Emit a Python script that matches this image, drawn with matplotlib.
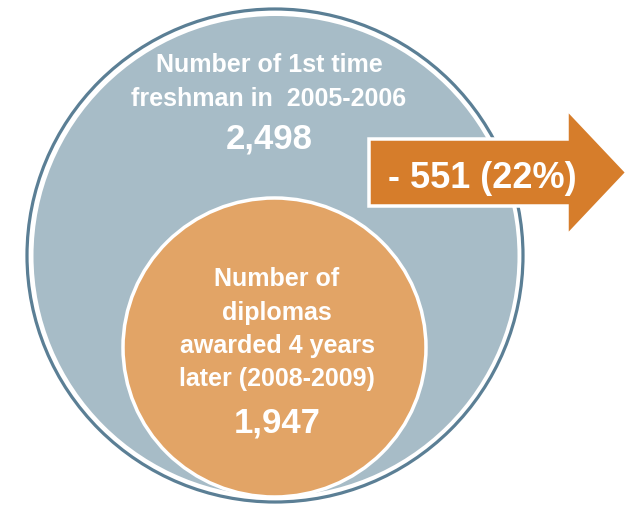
import matplotlib
matplotlib.use("Agg")
import matplotlib.pyplot as plt
from matplotlib.patches import Ellipse, Polygon

# Cohort figures
freshman_label = ["Number of 1st time", "freshman in  2005-2006"]
freshman_count = 2498
diploma_label = ["Number of", "diplomas", "awarded 4 years", "later (2008-2009)"]
diploma_count = 1947

drop = freshman_count - diploma_count
drop_pct = round(100 * drop / freshman_count)

BLUE = "#A7BCC7"
BLUE_DARK = "#5B7F95"
ORANGE_LIGHT = "#E2A466"
ORANGE = "#D67D2B"
FONT = ["Liberation Sans", "DejaVu Sans"]

W, H = 631, 506
fig = plt.figure(figsize=(W / 100, H / 100), dpi=100)
ax = fig.add_axes([0, 0, 1, 1])
ax.set_xlim(0, W)
ax.set_ylim(H, 0)
ax.axis("off")

px = 72 / 100  # one pixel in points

# Outer circle: thin dark ring, white gap, blue body
ax.add_patch(Ellipse((275, 256.5), 2 * 248, 2 * 246.5, facecolor="white",
                     edgecolor=BLUE_DARK, lw=3.2 * px, zorder=1))
ax.add_patch(Ellipse((275.5, 257), 2 * 242, 2 * 240, facecolor=BLUE,
                     edgecolor="none", zorder=2))

# Inner circle with white rim
ax.add_patch(Ellipse((274.5, 348.5), 2 * 151.5, 2 * 149.5, facecolor=ORANGE_LIGHT,
                     edgecolor="white", lw=3.5 * px, zorder=3))

# Arrow showing the difference
arrow_pts = [(369, 140), (567, 140), (567, 110), (627, 173.5),
             (567, 237), (567, 207), (369, 207)]
ax.add_patch(Polygon(arrow_pts, closed=True, facecolor=ORANGE,
                     edgecolor="white", lw=3.5 * px, joinstyle="miter", zorder=4))

# Outer circle text
for txt, yb in zip(freshman_label, [72, 106]):
    ax.text(269, yb, txt, ha="center", va="baseline", color="white",
            fontsize=18, fontweight="bold", family=FONT, zorder=5)
ax.text(269, 148, f"{freshman_count:,}", ha="center", va="baseline", color="white",
        fontsize=25, fontweight="bold", family=FONT, zorder=5)

# Inner circle text
for txt, yb in zip(diploma_label, [286, 320, 353, 386]):
    ax.text(277, yb, txt, ha="center", va="baseline", color="white",
            fontsize=18, fontweight="bold", family=FONT, zorder=5)
ax.text(277, 433, f"{diploma_count:,}", ha="center", va="baseline", color="white",
        fontsize=25, fontweight="bold", family=FONT, zorder=5)

# Arrow text
ax.text(482.5, 188, f"- {drop} ({drop_pct}%)", ha="center", va="baseline",
        color="white", fontsize=26, fontweight="bold", family=FONT, zorder=5)

fig.savefig("out.png", dpi=100, facecolor="white")
